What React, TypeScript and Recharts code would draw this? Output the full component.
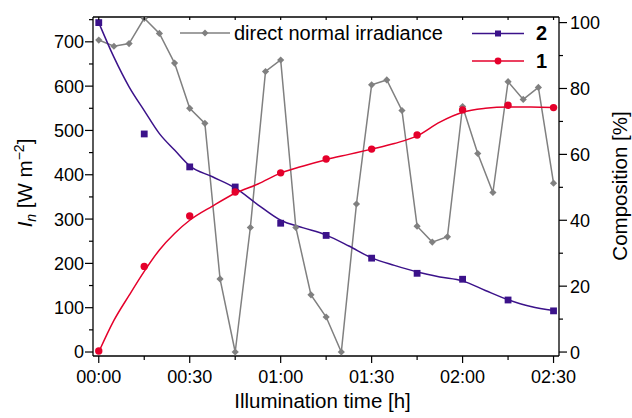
import React from 'react';
import { ComposedChart, Line, XAxis, YAxis, Customized } from 'recharts';

const FONT = '"Liberation Sans", Arial, Helvetica, sans-serif';
const GRAY = '#808080';
const BLUE = '#3b128a';
const RED = '#e5002b';

// irradiance samples, every 5 min (W m^-2)
const irrTimes = [0, 5, 10, 15, 20, 25, 30, 35, 40, 45, 50, 55, 60, 65, 70, 75, 80, 85, 90, 95, 100, 105, 110, 115, 120, 125, 130, 135, 140, 145, 150];
const irradiance = [704, 690, 696, 753, 719, 652, 550, 516, 165, 0, 281, 633, 659, 281, 129, 79, 0, 334, 603, 614, 545, 284, 248, 260, 554, 448, 360, 610, 570, 597, 381];

// composition samples every 15 min (%)
const sampleTimes = [0, 15, 30, 45, 60, 75, 90, 105, 120, 135, 150];
const comp2 = [100, 66.2, 56.2, 50.1, 39.1, 35.4, 28.5, 23.9, 22.1, 15.8, 12.5];
const comp1 = [0.3, 26, 41.3, 48.6, 54.4, 58.6, 61.6, 65.9, 73.5, 74.9, 74.2];

// fitted curves
const fitTimes = [0, 5, 10, 15, 20, 25, 30, 37.5, 45, 52.5, 60, 67.5, 75, 82.5, 90, 97.5, 105, 112.5, 120, 127.5, 135, 142.5, 150];
const fit2 = [100, 89.5, 80.5, 73.3, 66.3, 61.3, 56.5, 53.2, 49.8, 44.7, 40, 37.7, 35.5, 32.2, 28.6, 26.3, 24.3, 22.8, 21.6, 18.7, 15.9, 13.8, 12.6];
const fit1 = [0, 9.6, 17.2, 24.5, 31, 36, 40, 44.3, 48.2, 51, 54.3, 56.5, 58.4, 60, 61.6, 63.3, 65.6, 69.8, 72.8, 74, 74.4, 74.4, 74.2];

// ticks
const xTicks = [0, 15, 30, 45, 60, 75, 90, 105, 120, 135, 150];
const leftTicks = [0, 50, 100, 150, 200, 250, 300, 350, 400, 450, 500, 550, 600, 650, 700, 750];
const rightTicks = [0, 10, 20, 30, 40, 50, 60, 70, 80, 90, 100];

const irrData = irrTimes.map((t, i) => ({ t, v: irradiance[i] }));
const sampleData = sampleTimes.map((t, i) => ({ t, c2: comp2[i], c1: comp1[i] }));
const fitData = fitTimes.map((t, i) => ({ t, f2: fit2[i], f1: fit1[i] }));

const fmtTime = (m: number) => {
  const h = Math.floor(m / 60);
  const mm = m % 60;
  return `${String(h).padStart(2, '0')}:${String(mm).padStart(2, '0')}`;
};

const TS = 8; // tickSize
const TM = 1; // tickMargin

const LeftTick = (props: any) => {
  const { x, y, payload } = props;
  const ax = x + TS + TM;
  const v = payload.value;
  const major = v % 100 === 0;
  return (
    <g>
      <line x1={ax - (major ? 8 : 4)} x2={ax} y1={y} y2={y} stroke="#000" strokeWidth={1.2} />
      {major && (
        <text x={ax - 9} y={y} dy="0.36em" textAnchor="end" fontFamily={FONT} fontSize={18} fill="#000">
          {v}
        </text>
      )}
    </g>
  );
};

const RightTick = (props: any) => {
  const { x, y, payload } = props;
  const ax = x - TS - TM;
  const v = payload.value;
  const major = v % 20 === 0;
  return (
    <g>
      <line x1={ax} x2={ax + (major ? 8 : 4)} y1={y} y2={y} stroke="#000" strokeWidth={1.2} />
      {major && (
        <text x={ax + 11} y={y} dy="0.36em" textAnchor="start" fontFamily={FONT} fontSize={18} fill="#000">
          {v}
        </text>
      )}
    </g>
  );
};

const BottomTick = (props: any) => {
  const { x, y, payload } = props;
  const ay = y - TS - TM;
  const v = payload.value;
  const major = v % 30 === 0;
  return (
    <g>
      <line x1={x} x2={x} y1={ay} y2={ay + (major ? 7 : 4)} stroke="#000" strokeWidth={1.2} />
      {major && (
        <text x={x} y={ay + 27} textAnchor="middle" fontFamily={FONT} fontSize={18} fill="#000">
          {fmtTime(v)}
        </text>
      )}
    </g>
  );
};

const TopTick = (props: any) => {
  const { x, y } = props;
  const ay = y + TS + TM;
  return <line x1={x} x2={x} y1={ay} y2={ay + 3} stroke="#000" strokeWidth={1.2} />;
};

const Diamond = (props: any) => {
  const { cx, cy, index } = props;
  if (cx == null || cy == null) return <g key={index} />;
  const s = 3.6;
  return (
    <path key={index} d={`M${cx},${cy - s} L${cx + s},${cy} L${cx},${cy + s} L${cx - s},${cy} Z`} fill={GRAY} />
  );
};

const Square = (props: any) => {
  const { cx, cy, index } = props;
  if (cx == null || cy == null) return <g key={index} />;
  const s = 3.4;
  return <rect key={index} x={cx - s} y={cy - s} width={2 * s} height={2 * s} fill={BLUE} />;
};

const Dot = (props: any) => {
  const { cx, cy, index } = props;
  if (cx == null || cy == null) return <g key={index} />;
  return <circle key={index} cx={cx} cy={cy} r={3.7} fill={RED} />;
};

const Overlay = () => (
  <g>
    {/* legend */}
    <line x1={180} x2={230} y1={33} y2={33} stroke={GRAY} strokeWidth={1.5} />
    <path d="M205,29.5 L208.5,33 L205,36.5 L201.5,33 Z" fill={GRAY} />
    <text x={234} y={40} fontFamily={FONT} fontSize={20} fill="#000">direct normal irradiance</text>

    <line x1={472} x2={524} y1={33.5} y2={33.5} stroke={BLUE} strokeWidth={1.5} />
    <rect x={495} y={30.5} width={6} height={6} fill={BLUE} />
    <text x={536} y={40} fontFamily={FONT} fontSize={20} fontWeight="bold" fill="#000">2</text>

    <line x1={472} x2={524} y1={61} y2={61} stroke={RED} strokeWidth={1.5} />
    <circle cx={498} cy={61} r={3.4} fill={RED} />
    <text x={536} y={68} fontFamily={FONT} fontSize={20} fontWeight="bold" fill="#000">1</text>

    {/* axis titles */}
    <text x={322.5} y={408} textAnchor="middle" fontFamily={FONT} fontSize={20.5} fill="#000">
      Illumination time [h]
    </text>
    <text x={32} y={183} transform="rotate(-90 32 183)" textAnchor="middle" fontFamily={FONT} fontSize={20.5} fill="#000">
      <tspan fontStyle="italic">I</tspan>
      <tspan fontStyle="italic" fontSize={14} dy={4}>n</tspan>
      <tspan dy={-4}> [W m</tspan>
      <tspan fontSize={14} dy={-8}>−2</tspan>
      <tspan dy={8}>]</tspan>
    </text>
    <text x={627} y={186} transform="rotate(-90 627 186)" textAnchor="middle" fontFamily={FONT} fontSize={20.5} fill="#000">
      Composition [%]
    </text>
  </g>
);

export default function App() {
  return (
    <div style={{ position: 'absolute', left: 0, top: 0, width: 632, height: 418, background: '#fff' }}>
      <ComposedChart width={632} height={418} margin={{ top: 12, right: 13, bottom: 32, left: 33 }}>
        <XAxis
          xAxisId="bottom"
          dataKey="t"
          type="number"
          domain={[-1.9, 151.8]}
          allowDataOverflow
          ticks={xTicks}
          interval={0}
          height={30}
          tickSize={TS}
          tickMargin={TM}
          tickLine={false}
          axisLine={{ stroke: '#000', strokeWidth: 1.3 }}
          tick={<BottomTick />}
        />
        <XAxis
          xAxisId="top"
          orientation="top"
          dataKey="t"
          type="number"
          domain={[-1.9, 151.8]}
          allowDataOverflow
          ticks={xTicks}
          interval={0}
          height={5}
          tickSize={TS}
          tickMargin={TM}
          tickLine={false}
          axisLine={{ stroke: '#000', strokeWidth: 1.3 }}
          tick={<TopTick />}
        />
        <YAxis
          yAxisId="left"
          type="number"
          domain={[-9, 756]}
          allowDataOverflow
          ticks={leftTicks}
          interval={0}
          width={60}
          tickSize={TS}
          tickMargin={TM}
          tickLine={false}
          axisLine={{ stroke: '#000', strokeWidth: 1.3 }}
          tick={<LeftTick />}
        />
        <YAxis
          yAxisId="right"
          orientation="right"
          type="number"
          domain={[-1.2, 101.7]}
          allowDataOverflow
          ticks={rightTicks}
          interval={0}
          width={60}
          tickSize={TS}
          tickMargin={TM}
          tickLine={false}
          axisLine={{ stroke: '#000', strokeWidth: 1.3 }}
          tick={<RightTick />}
        />
        <Line
          xAxisId="bottom"
          yAxisId="left"
          data={irrData}
          dataKey="v"
          type="linear"
          stroke={GRAY}
          strokeWidth={1.5}
          dot={Diamond}
          activeDot={false}
          isAnimationActive={false}
        />
        <Line
          xAxisId="bottom"
          yAxisId="right"
          data={fitData}
          dataKey="f2"
          type="monotone"
          stroke={BLUE}
          strokeWidth={1.5}
          dot={false}
          activeDot={false}
          isAnimationActive={false}
        />
        <Line
          xAxisId="bottom"
          yAxisId="right"
          data={fitData}
          dataKey="f1"
          type="monotone"
          stroke={RED}
          strokeWidth={1.5}
          dot={false}
          activeDot={false}
          isAnimationActive={false}
        />
        <Line
          xAxisId="bottom"
          yAxisId="right"
          data={sampleData}
          dataKey="c2"
          stroke="none"
          dot={Square}
          activeDot={false}
          isAnimationActive={false}
        />
        <Line
          xAxisId="bottom"
          yAxisId="right"
          data={sampleData}
          dataKey="c1"
          stroke="none"
          dot={Dot}
          activeDot={false}
          isAnimationActive={false}
        />
        <Customized component={Overlay} />
      </ComposedChart>
    </div>
  );
}
